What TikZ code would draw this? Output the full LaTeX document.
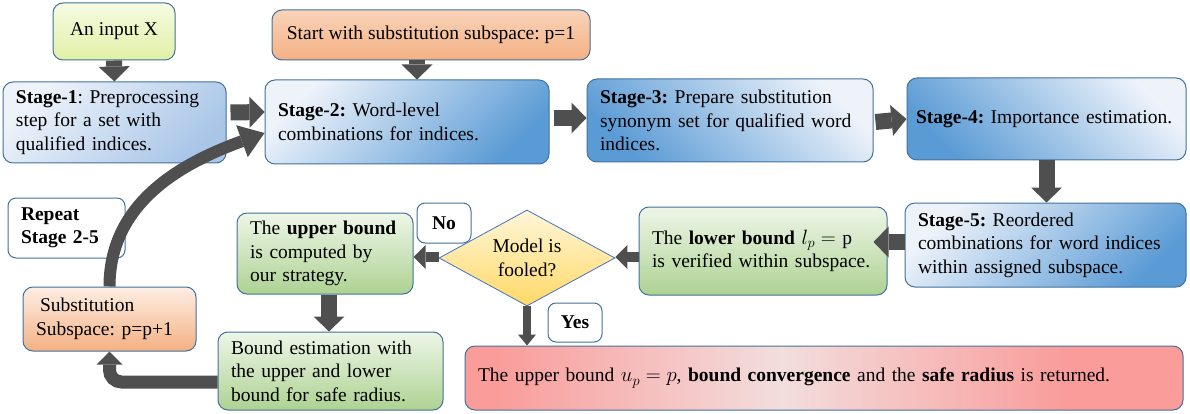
\documentclass[tikz,border=0pt]{standalone}
\usepackage{fontspec}
\setmainfont{Liberation Serif}
\usetikzlibrary{arrows.meta,shapes.geometric}

\definecolor{bluebd}{HTML}{41719C}
\definecolor{blueL}{HTML}{EEF3FA}
\definecolor{blueM}{HTML}{A9C6E8}
\definecolor{blueD}{HTML}{5B9BD5}
\definecolor{greenL}{HTML}{EEF6E8}
\definecolor{greenD}{HTML}{ADD292}
\definecolor{orangeL}{HTML}{FDEEE4}
\definecolor{orangeM}{HTML}{F9D3BA}
\definecolor{orangeD}{HTML}{F4B183}
\definecolor{limeL}{HTML}{F6FBE2}
\definecolor{limeD}{HTML}{E1F0A6}
\definecolor{goldL}{HTML}{FFF6DA}
\definecolor{goldD}{HTML}{FFD966}
\definecolor{roseL}{HTML}{F2DEDD}
\definecolor{roseD}{HTML}{F99C9A}
\definecolor{arrowgray}{HTML}{4F4F4F}
\definecolor{diabd}{HTML}{4472C4}

\pgfdeclarehorizontalshading{roseband}{100bp}{color(0bp)=(roseD); color(27bp)=(roseD); color(47bp)=(roseL); color(67bp)=(roseD); color(100bp)=(roseD)}

\newcommand\boxfont{\fontsize{19.5}{23.5}\selectfont\frenchspacing}

\tikzset{
  stagebox/.style={rounded corners=10pt, draw=bluebd, line width=1pt, top color=blueL, bottom color=blueD, shading angle=#1, align=left, inner xsep=13pt, inner ysep=3pt, font=\boxfont},
  stagebox/.default=45,
  greenbox/.style={rounded corners=10pt, draw=bluebd, line width=1pt, top color=greenL, bottom color=greenD, align=left, inner xsep=13pt, inner ysep=3pt, font=\boxfont},
  orangebox/.style={rounded corners=10pt, draw=bluebd, line width=1pt, top color=orangeL, bottom color=orangeD, align=left, inner xsep=13pt, inner ysep=3pt, font=\boxfont},
  limebox/.style={rounded corners=10pt, draw=bluebd, line width=1pt, top color=limeL, bottom color=limeD, align=center, font=\boxfont},
  labelbox/.style={rounded corners=8pt, draw=bluebd, line width=1pt, fill=white, font=\boxfont\bfseries},
  bigarrow/.style={draw=arrowgray, line width=16pt, -{Triangle[width=31pt,length=15pt,line width=0pt]}},
  smallarrow/.style={draw=arrowgray, line width=10pt, -{Triangle[width=24pt,length=12pt,line width=0pt]}},
}

\begin{document}
\begin{tikzpicture}[x=1pt,y=1pt]
  \useasboundingbox (0,0) rectangle (1190,-414);

  % top row
  \node[limebox, minimum width=122pt, minimum height=57pt] (inp) at (114,-31.5) {An input X};
  \node[orangebox, top color=orangeM, align=center, minimum width=318pt, minimum height=50pt] (start) at (431,-35) {Start with substitution subspace: p=1};
  \node[stagebox, bottom color=blueM, shading angle=45, text width=197pt, minimum height=81pt] (s1) at (114.5,-122.5) {\textbf{Stage-1}: Preprocessing\\step for a set with\\qualified indices.};
  \node[stagebox, text width=258pt, minimum height=84pt] (s2) at (407,-122) {\textbf{Stage-2:} Word-level\\combinations for indices.};
  \node[stagebox=-45, text width=260pt, minimum height=83pt] (s3) at (730,-120.5) {\textbf{Stage-3:} Prepare substitution\\synonym set for qualified word\\indices.};
  \node[stagebox=-45, inner xsep=9pt, text width=261pt, minimum height=82pt] (s4) at (1046.5,-119) {\textbf{Stage-4:} Importance estimation.};

  % lower part
  \node[stagebox, text width=255pt, minimum height=84pt] (s5) at (1045.5,-245) {\textbf{Stage-5:} Reordered\\combinations for word indices\\within assigned subspace.};
  \node[greenbox, text width=222pt, minimum height=88pt] (low) at (763,-251) {The \textbf{lower bound} $l_p=$ p\\is verified within subspace.};
  \node[diamond, draw=diabd, line width=0.8pt, top color=goldL, bottom color=goldD, aspect=1.83, inner sep=0pt, minimum width=176pt, minimum height=96pt, align=center, font=\boxfont] (dia) at (527,-258) {Model is\\fooled?};
  \node[greenbox, text width=150pt, minimum height=81pt] (up) at (325,-253.5) {The \textbf{upper bound}\\is computed by\\our strategy.};
  \node[greenbox, text width=199pt, minimum height=78pt] (est) at (330.5,-371) {Bound estimation with\\the upper and lower\\bound for safe radius.};
  \node[orangebox, text width=147pt, minimum height=64pt] (sub) at (109.5,-319) {\hspace{4pt}Substitution\\Subspace: p=p+1};
  \node[labelbox, align=left, inner xsep=13pt, text width=91pt, minimum height=60pt] (rep) at (66.5,-228) {Repeat\\Stage 2-5};
  \node[labelbox, minimum width=54pt, minimum height=40pt] (no) at (444,-223) {No};
  \node[labelbox, minimum width=54pt, minimum height=39pt] (yes) at (575,-322.5) {Yes};
  \node[rounded corners=10pt, draw=bluebd, line width=1pt, shading=roseband, align=left, inner xsep=13pt, text width=692pt, minimum height=64pt, font=\boxfont] (red) at (824,-378) {The upper bound $u_p = p$, \textbf{bound convergence} and the \textbf{safe radius} is returned.};

  % arrows
  \draw[bigarrow] (inp.south) -- (s1.north);
  \draw[bigarrow] ([xshift=-14pt]start.south) -- ([xshift=10pt]s2.north);
  \draw[bigarrow] ([xshift=4pt,yshift=10pt]s1.east) -- ([yshift=10pt]s2.west);
  \draw[bigarrow] ([xshift=4pt,yshift=4pt]s2.east) -- ([yshift=2.5pt]s3.west);
  \draw[bigarrow] ([xshift=2pt,yshift=-1.5pt]s3.east) -- (s4.west);
  \draw[bigarrow] (s4.south) -- ([xshift=1pt]s5.north);
  \draw[bigarrow] ([yshift=3pt]s5.west) -- ([xshift=-14pt,yshift=9pt]low.east);
  \draw[smallarrow] ([yshift=-6pt]low.west) -- ([yshift=1pt]dia.east);
  \draw[smallarrow] ([yshift=1pt]dia.west) -- ([yshift=-3.5pt]up.east);
  \draw[bigarrow] ([xshift=4pt]up.south) -- ([xshift=-1.5pt]est.north);
  \draw[draw=arrowgray, line width=8pt, -{Triangle[width=18pt,length=11pt,line width=0pt]}] (dia.south) -- (dia.south |- red.north);
  \draw[draw=arrowgray, line width=13pt, rounded corners=12pt, -{Triangle[width=26pt,length=13pt,line width=0pt]}] ([yshift=-11pt]est.west) -| (sub.south);
  \draw[draw=arrowgray, line width=12pt, -{Triangle[width=34pt,length=24pt,line width=0pt]}] (sub.north) to[out=90,in=200] ([yshift=-11pt]s2.west);
\end{tikzpicture}
\end{document}
